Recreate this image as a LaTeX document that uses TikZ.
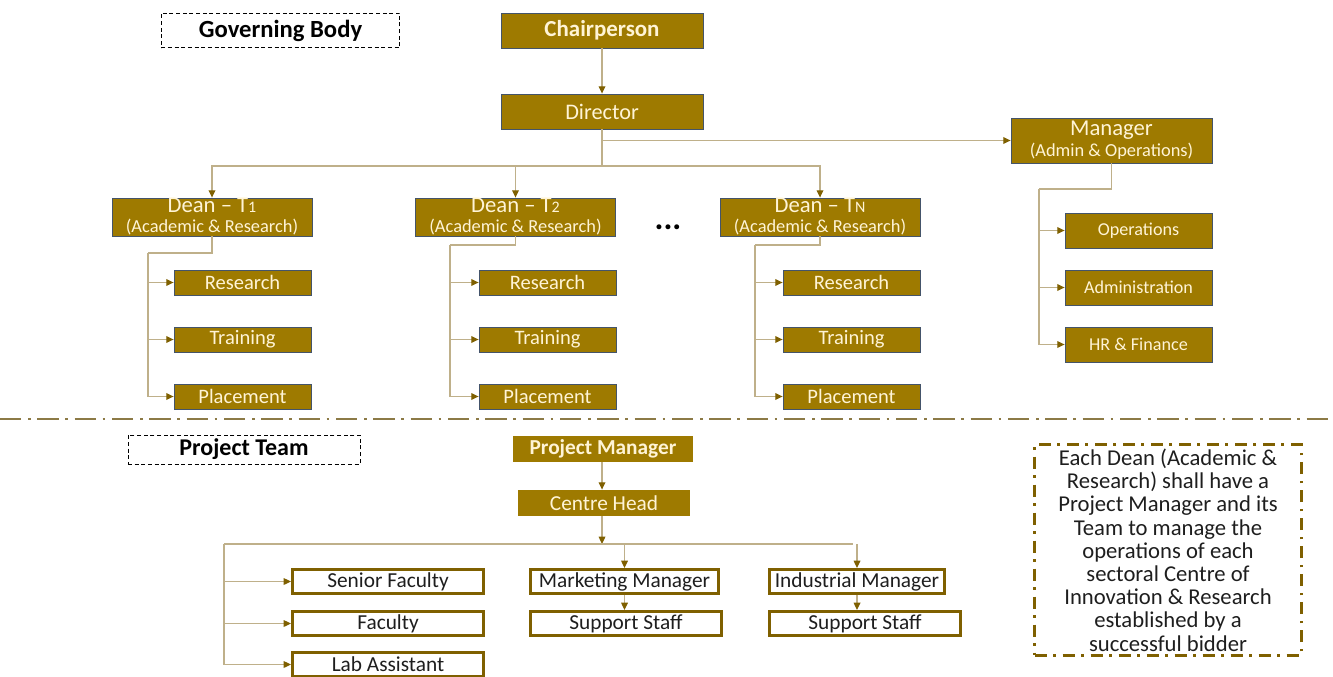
\documentclass[tikz,border=0pt]{standalone}
\usepackage{fontspec}
\setmainfont{Carlito}
\usetikzlibrary{arrows.meta,calc}
\definecolor{gold}{HTML}{9E7A00}
\definecolor{slate}{HTML}{44546A}
\definecolor{cream}{HTML}{FFF4D6}
\definecolor{tan}{HTML}{BFB08A}
\definecolor{umber}{HTML}{7F6000}
\definecolor{rulecol}{HTML}{8C7A46}
\definecolor{ink}{HTML}{1E1E1E}

\begin{document}
\begin{tikzpicture}[x=0.75pt, y=-0.75pt,
  role/.style={fill=gold, draw=slate, line width=0.6pt, text=cream, inner sep=0pt, align=center},
  unit/.style={role, minimum width=102.75pt, minimum height=18.75pt, font=\fontsize{15.4}{16}\selectfont},
  office/.style={role, minimum width=110.25pt, minimum height=26.25pt, font=\fontsize{13.6}{15}\selectfont},
  dean/.style={role, minimum width=150pt, minimum height=28.5pt, font=\fontsize{13.8}{15}\selectfont},
  crew/.style={draw=umber, line width=2.2pt, fill=white, text=ink, inner sep=0pt, minimum height=18pt, font=\fontsize{16}{17}\selectfont},
  tag/.style={draw=black, dash pattern=on 3pt off 2pt, line width=0.6pt, inner sep=0pt, font=\bfseries\fontsize{18.5}{20}\selectfont},
  link/.style={tan, line width=0.9pt},
  linkarrow/.style={link, -{Triangle[length=5.5pt, width=5pt, color=umber]}}
]
  \useasboundingbox (0,0) rectangle (1333,677);

  % governing body
  \node[tag, minimum width=179pt, minimum height=26pt] (govbody) at (280.5,30.5) {Governing Body};
  \node[role, minimum width=151.5pt, minimum height=26.25pt, font=\bfseries\fontsize{17.2}{18}\selectfont] (chair) at (602,30.5) {Chairperson};
  \node[role, minimum width=151.5pt, minimum height=26.25pt, font=\fontsize{16.7}{18}\selectfont] (director) at (602,111.5) {Director};
  \node[role, minimum width=150.75pt, minimum height=33.75pt, font=\fontsize{13.8}{15.75}\selectfont] (manager) at (1111.5,140.5) {{\fontsize{17}{15.75}\selectfont Manager}\\(Admin \& Operations)};

  \node[dean] (dean1) at (212,217) {{\fontsize{17}{15}\selectfont Dean -- T{\fontsize{12}{15}\selectfont 1}}\\(Academic \& Research)};
  \node[dean] (dean2) at (515.5,217) {{\fontsize{17}{15}\selectfont Dean -- T{\fontsize{12}{15}\selectfont 2}}\\(Academic \& Research)};
  \node[dean] (dean3) at (820,217) {{\fontsize{17}{15}\selectfont Dean -- T{\fontsize{12}{15}\selectfont N}}\\(Academic \& Research)};
  \node[font=\bfseries\fontsize{25}{25}\selectfont, inner sep=0pt] (dots) at (668,227) {...};

  \foreach \i/\x in {1/242.5, 2/547.5, 3/851.5} {
    \node[unit] (research\i) at (\x,282.5) {Research};
    \node[unit] (training\i) at (\x,339.5) {Training};
    \node[unit] (placement\i) at (\x,396.5) {Placement};
  }

  \node[office] (operations) at (1138.5,230.5) {Operations};
  \node[office] (admin) at (1138.5,287.5) {Administration};
  \node[office] (hrfin) at (1138.5,344.5) {HR \& Finance};

  % top connectors
  \coordinate (dbus) at (602,166);
  \draw[linkarrow] (chair) -- (director);
  \draw[link] (director) -- (dbus);
  \foreach \i in {1,2,3}
    \draw[linkarrow] (dbus) -| (dean\i);
  \draw[linkarrow] (director.south |- manager) -- (manager);

  \foreach \i/\x/\y in {1/148/253, 2/450/245, 3/755/245} {
    \coordinate (spine\i) at (\x,\y);
    \draw[link] (dean\i.south) |- (spine\i);
    \draw[linkarrow] (spine\i) |- (placement\i);
    \draw[linkarrow] (spine\i |- research\i) -- (research\i);
    \draw[linkarrow] (spine\i |- training\i) -- (training\i);
  }

  \coordinate (mspine) at (1039,189);
  \draw[link] (manager.south) |- (mspine);
  \draw[linkarrow] (mspine) |- (hrfin);
  \draw[linkarrow] (mspine |- operations) -- (operations);
  \draw[linkarrow] (mspine |- admin) -- (admin);

  % separator
  \draw[rulecol, line width=1.5pt, dash pattern=on 16pt off 5pt on 2pt off 5pt] (0,419) -- (1333,419);

  % project team
  \node[tag, minimum width=174pt, minimum height=21.75pt, font=\bfseries\fontsize{18}{20}\selectfont] (projteam) at (244,449.5) {Project Team};
  \node[role, draw=none, minimum width=135pt, minimum height=19.5pt, font=\bfseries\fontsize{16}{17}\selectfont] (projmgr) at (603,449) {Project Manager};
  \node[role, draw=none, minimum width=129pt, minimum height=19.5pt, font=\fontsize{16}{17}\selectfont] (centrehead) at (604,503) {Centre Head};

  \node[crew, minimum width=143.3pt] (senior) at (388,581.5) {Senior Faculty};
  \node[crew, minimum width=143.3pt] (faculty) at (388,623.5) {Faculty};
  \node[crew, minimum width=143.3pt] (lab) at (388,664.5) {Lab Assistant};
  \node[crew, minimum width=141pt] (marketing) at (624.5,581.5) {Marketing Manager};
  \node[crew, minimum width=143.3pt] (support1) at (626,623.5) {Support Staff};
  \node[crew, minimum width=131.3pt] (industrial) at (857,581.5) {Industrial Manager};
  \node[crew, minimum width=143.3pt] (support2) at (865,623.5) {Support Staff};

  \coordinate (pbus) at (602,544);
  \coordinate (pleft) at (224,544);
  \coordinate (pright) at (853,544);
  \draw[linkarrow] (projmgr.south -| pbus) -- (centrehead.north -| pbus);
  \draw[linkarrow] (centrehead.south -| pbus) -- (pbus);
  \draw[link] (pleft) -- (pright);
  \draw[linkarrow] (pleft) |- (lab);
  \draw[linkarrow] (pleft |- senior) -- (senior);
  \draw[linkarrow] (pleft |- faculty) -- (faculty);
  \draw[linkarrow] (marketing.north |- pbus) -- (marketing);
  \draw[linkarrow] (industrial.north |- pbus) -- (industrial);
  \draw[linkarrow] (marketing) -- (marketing |- support1.north);
  \draw[linkarrow] (industrial) -- (industrial |- support2.north);

  % note
  \node[draw=umber, line width=2.2pt, dash pattern=on 9pt off 5pt on 2pt off 5pt, minimum width=200pt, minimum height=158pt, inner sep=0pt, align=center, text=ink, font=\fontsize{17}{17.4}\selectfont] (note) at (1168,550) {Each Dean (Academic \&\\Research) shall have a\\Project Manager and its\\Team to manage the\\operations of each\\sectoral Centre of\\Innovation \& Research\\established by a\\successful bidder};
\end{tikzpicture}
\end{document}
